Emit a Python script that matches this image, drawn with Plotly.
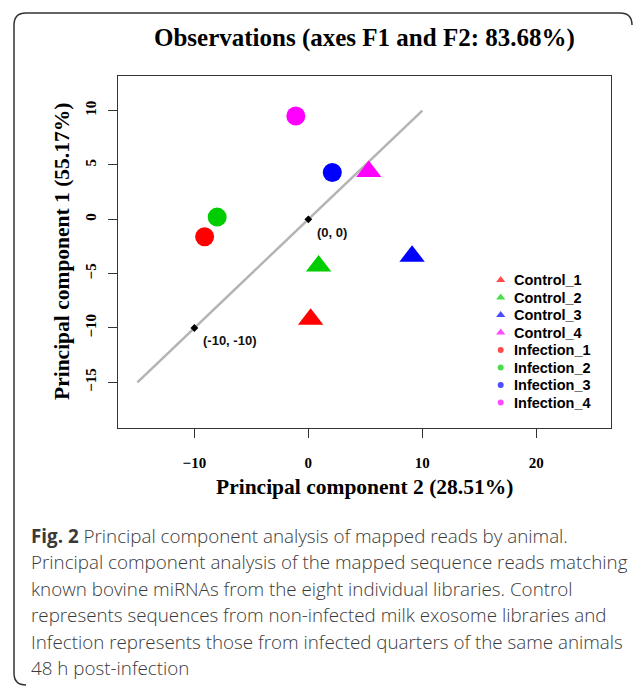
import plotly.graph_objects as go

# ---------------- data ----------------
names = ["Control_1", "Control_2", "Control_3", "Control_4",
         "Infection_1", "Infection_2", "Infection_3", "Infection_4"]
pc2 = [0.2, 0.9, 9.1, 5.3, -9.1, -8.0, 2.1, -1.1]      # x: Principal component 2
pc1 = [-9.2, -4.3, -3.4, 4.4, -1.6, 0.2, 4.3, 9.5]     # y: Principal component 1
colors = ["#ff0000", "#00cd00", "#0000ff", "#ff00ff",
          "#ff0000", "#00cd00", "#0000ff", "#ff00ff"]
symbols = ["triangle-up"] * 4 + ["circle"] * 4

ref_line_x = [-15, 10]
ref_line_y = [-15, 10]
ref_pts_x = [0, -10]
ref_pts_y = [0, -10]
ref_pts_labels = ["(0, 0)", "(-10, -10)"]

x_ticks = [-10, 0, 10, 20]
y_ticks = [-15, -10, -5, 0, 5, 10]

title_text = "Observations (axes F1 and F2: 83.68%)"
x_title = "Principal component 2 (28.51%)"
y_title = "Principal component 1 (55.17%)"
caption_lines = [
    "<b>Fig. 2</b> Principal component analysis of mapped reads by animal.",
    "Principal component analysis of the mapped sequence reads matching",
    "known bovine miRNAs from the eight individual libraries. Control",
    "represents sequences from non-infected milk exosome libraries and",
    "Infection represents those from infected quarters of the same animals",
    "48 h post-infection",
]

# ---------------- layout geometry ----------------
W, H = 633, 686
L, R, T, B = 118, 611, 76, 428   # plot box in pixels
pw, ph = R - L, B - T


def px(xp):
    return (xp - L) / pw


def py(yp):
    return (B - yp) / ph


serif = "Liberation Serif, Times New Roman, serif"
sans = "Liberation Sans, Arial, sans-serif"

# legend geometry (pixels): glyph column and row spacing
leg_x, leg_y0, leg_dy = 500.7, 280, 17.5

fig = go.Figure()

# reference diagonal line
fig.add_trace(go.Scatter(x=ref_line_x, y=ref_line_y, mode="lines",
                         line=dict(color="#b4b4b4", width=2.5),
                         showlegend=False, hoverinfo="skip"))
# reference points
fig.add_trace(go.Scatter(x=ref_pts_x, y=ref_pts_y, mode="markers",
                         marker=dict(color="black", size=6, symbol="diamond"),
                         showlegend=False, hoverinfo="skip"))

# observations
for n, xv, yv, c, s in zip(names, pc2, pc1, colors, symbols):
    size = 22 if s == "triangle-up" else 19
    fig.add_trace(go.Scatter(x=[xv], y=[yv], mode="markers", name=n,
                             marker=dict(color=c, symbol=s, size=size,
                                         line=dict(width=0)),
                             showlegend=False))

# legend glyphs on an auxiliary overlay axis (row index -> pixel rows)
rows = list(range(len(names)))
fig.add_trace(go.Scatter(x=[0] * len(names), y=rows, mode="markers",
                         xaxis="x2", yaxis="y2",
                         marker=dict(color=colors, symbol=symbols,
                                     size=[8 if s == "triangle-up" else 6
                                           for s in symbols],
                                     line=dict(width=0)),
                         showlegend=False, hoverinfo="skip"))

annotations = []
for i, n in enumerate(names):
    annotations.append(dict(x=0, y=i, xref="x2", yref="y2", text="<b>" + n + "</b>",
                            showarrow=False, xanchor="left", yanchor="middle",
                            xshift=11,
                            font=dict(family=sans, size=14.5, color="black")))

for xv, yv, lab in zip(ref_pts_x, ref_pts_y, ref_pts_labels):
    annotations.append(dict(x=xv, y=yv, xref="x", yref="y", text="<b>" + lab + "</b>",
                            showarrow=False, xanchor="left", yanchor="middle",
                            xshift=7, yshift=-13,
                            font=dict(family=sans, size=13, color="#111111")))

annotations.append(dict(x=px(364), y=py(38), xref="paper", yref="paper",
                        text="<b>" + title_text + "</b>", showarrow=False,
                        xanchor="center", yanchor="middle",
                        font=dict(family=serif, size=25, color="black")))
annotations.append(dict(x=0.5, y=py(487), xref="paper", yref="paper",
                        text="<b>" + x_title + "</b>", showarrow=False,
                        xanchor="center", yanchor="middle",
                        font=dict(family=serif, size=21.5, color="black")))
annotations.append(dict(x=px(62), y=0.5, xref="paper", yref="paper",
                        text="<b>" + y_title + "</b>", showarrow=False,
                        textangle=-90, xanchor="center", yanchor="middle",
                        font=dict(family=serif, size=21.5, color="black")))

cap_y0, cap_dy = 536, 26.4
for i, line in enumerate(caption_lines):
    annotations.append(dict(x=px(29), y=py(cap_y0 + i * cap_dy),
                            xref="paper", yref="paper", text=line,
                            showarrow=False, xanchor="left", yanchor="middle",
                            font=dict(family="Open Sans, sans-serif", size=18.8,
                                      color="#3a3a3a", weight=300)))

# rounded outer frame
fl, ft, fr, fb, rad = 14, 13, 632, 685, 12
path = (f"M {px(fl)},{py(ft + rad)} "
        f"Q {px(fl)},{py(ft)} {px(fl + rad)},{py(ft)} "
        f"L {px(fr - rad)},{py(ft)} "
        f"Q {px(fr)},{py(ft)} {px(fr)},{py(ft + rad)} "
        f"M {px(fl)},{py(ft + rad)} "
        f"L {px(fl)},{py(fb - rad)} "
        f"Q {px(fl)},{py(fb)} {px(fl + rad)},{py(fb)}")
shapes = [dict(type="path", xref="paper", yref="paper", path=path,
               line=dict(color="#333333", width=1.5))]

axis_common = dict(showgrid=False, zeroline=False, showline=True, mirror=True,
                   linecolor="#333333", linewidth=1, ticks="outside",
                   ticklen=9, tickwidth=1, tickcolor="#333333",
                   tickfont=dict(family=serif, size=15, color="black",
                                 weight="bold"))

aux = dict(visible=False, showgrid=False, zeroline=False, fixedrange=True)

fig.update_layout(
    width=W, height=H,
    margin=dict(l=L, r=W - R, t=T, b=H - B, autoexpand=False),
    paper_bgcolor="white", plot_bgcolor="white",
    xaxis=dict(range=[-16.7, 26.55], tickvals=x_ticks, ticklabelstandoff=12,
               **axis_common),
    yaxis=dict(range=[-19.2, 13.18], tickvals=y_ticks, tickangle=-90,
               ticklabelstandoff=6, **axis_common),
    xaxis2=dict(overlaying="x", range=[L - leg_x, R - leg_x], **aux),
    yaxis2=dict(overlaying="y", range=[(B - leg_y0) / leg_dy, (T - leg_y0) / leg_dy],
                **aux),
    annotations=annotations,
    shapes=shapes,
    showlegend=False,
)

fig.write_html("out.html")
